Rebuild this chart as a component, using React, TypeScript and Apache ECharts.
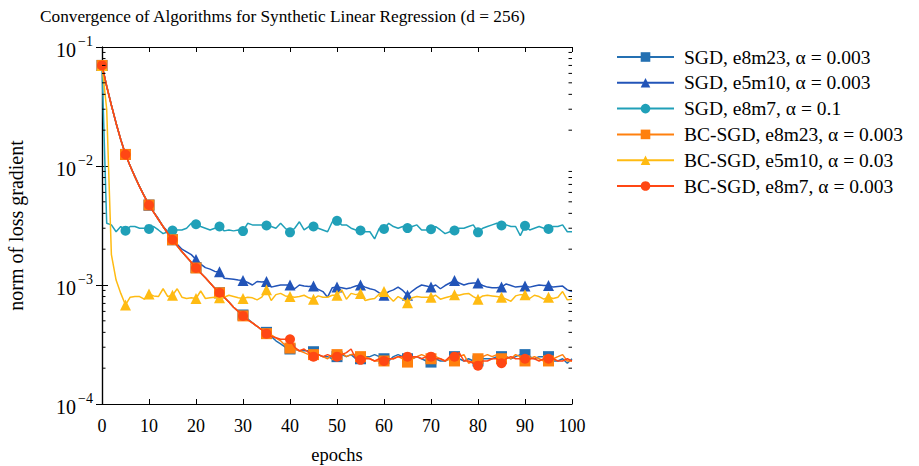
import React, { useEffect, useRef } from "react";
import * as echarts from "echarts";

const titleText = "Convergence of Algorithms for Synthetic Linear Regression (d = 256)";
const xTickValues = [0, 10, 20, 30, 40, 50, 60, 70, 80, 90, 100];
const yDecades = [1e-4, 1e-3, 1e-2, 1e-1];
const yMinorTicks = [
  2e-4, 3e-4, 4e-4, 5e-4, 6e-4, 7e-4, 8e-4, 9e-4,
  2e-3, 3e-3, 4e-3, 5e-3, 6e-3, 7e-3, 8e-3, 9e-3,
  2e-2, 3e-2, 4e-2, 5e-2, 6e-2, 7e-2, 8e-2, 9e-2,
];

const seriesNames = [
  "SGD, e8m23, α = 0.003",
  "SGD, e5m10, α = 0.003",
  "SGD, e8m7, α = 0.1",
  "BC-SGD, e8m23, α = 0.003",
  "BC-SGD, e5m10, α = 0.03",
  "BC-SGD, e8m7, α = 0.003",
];
const seriesColors = ["#2470b2", "#2254b8", "#20a0b8", "#ff800e", "#ffbb12", "#ff4714"];
const seriesSymbols = ["rect", "triangle", "circle", "rect", "triangle", "circle"];

// epoch-by-epoch values (epochs 0..100)
const sgdE8m23 = [
  0.07, 0.0468, 0.0324, 0.0229, 0.0166, 0.0125, 0.01, 0.0081, 0.0067, 0.0056,
  0.0047, 0.0041, 0.00355, 0.0031, 0.0027, 0.0024, 0.00214, 0.0019, 0.00172, 0.00155,
  0.0014, 0.00126, 0.00115, 0.00104, 0.00094, 0.00086, 0.00079, 0.00072, 0.00065, 0.0006,
  0.00056, 0.00052, 0.00048, 0.00045, 0.00042, 0.0004, 0.00037, 0.00034, 0.00032, 0.0003,
  0.00029, 0.00029, 0.00028, 0.00028, 0.00028, 0.000275, 0.00026, 0.00025, 0.00025, 0.00024,
  0.00025, 0.00026, 0.00025, 0.00026, 0.00024, 0.00024, 0.00025, 0.00025, 0.00026, 0.00025,
  0.00024, 0.00023, 0.00025, 0.00026, 0.00025, 0.00024, 0.00024, 0.00025, 0.00024, 0.00023,
  0.000225, 0.00024, 0.00023, 0.00023, 0.00024, 0.00025, 0.00024, 0.00023, 0.00024, 0.00023,
  0.00023, 0.00024, 0.00024, 0.00024, 0.00025, 0.00025, 0.00025, 0.00024, 0.00025, 0.00026,
  0.00026, 0.00025, 0.00024, 0.00025, 0.00025, 0.00025, 0.00023, 0.00023, 0.00024, 0.00022,
  0.00024,
];
const sgdE5m10 = [
  0.07, 0.0468, 0.0324, 0.0229, 0.0166, 0.0125, 0.01, 0.0082, 0.0067, 0.0056,
  0.0047, 0.0041, 0.0036, 0.0031, 0.0028, 0.0025, 0.0022, 0.002, 0.0019, 0.0018,
  0.00164, 0.0015, 0.0014, 0.00136, 0.0013, 0.00129, 0.00114, 0.00113, 0.00112, 0.0011,
  0.00109, 0.00105, 0.001, 0.00107, 0.00106, 0.00107, 0.00096, 0.00098, 0.001, 0.001,
  0.001, 0.00093, 0.001, 0.00098, 0.00097, 0.00098, 0.00092, 0.00088, 0.00079, 0.00095,
  0.00096, 0.00095, 0.00093, 0.00095, 0.00098, 0.001, 0.00096, 0.00093, 0.00091, 0.00086,
  0.00082, 0.00088, 0.00091, 0.00096, 0.0009, 0.00082, 0.00089, 0.00095, 0.001, 0.00098,
  0.00096, 0.001, 0.00093, 0.00099, 0.00104, 0.00109, 0.00104, 0.001, 0.00103, 0.00104,
  0.00104, 0.00099, 0.00096, 0.00095, 0.00095, 0.00096, 0.00102, 0.00099, 0.00096, 0.00097,
  0.00098, 0.00096, 0.00098, 0.001, 0.00099, 0.00099, 0.00096, 0.00097, 0.00098, 0.00091,
  0.00088,
];
const sgdE8m7 = [
  0.07, 0.0033, 0.0032, 0.0028, 0.0031, 0.00286, 0.0031, 0.0031, 0.003, 0.003,
  0.00296, 0.0031, 0.0029, 0.0027, 0.0028, 0.00287, 0.0029, 0.0029, 0.003, 0.0033,
  0.00324, 0.0031, 0.003, 0.0029, 0.003, 0.0031, 0.00285, 0.0029, 0.00285, 0.0029,
  0.00284, 0.0033, 0.0032, 0.0032, 0.0032, 0.00316, 0.0031, 0.003, 0.0033, 0.003,
  0.00277, 0.003, 0.0034, 0.0029, 0.0031, 0.0031, 0.003, 0.0029, 0.0028, 0.0034,
  0.00346, 0.0032, 0.0032, 0.003, 0.0029, 0.00287, 0.0028, 0.0028, 0.00244, 0.003,
  0.00296, 0.0033, 0.0031, 0.003, 0.0031, 0.00301, 0.0031, 0.0032, 0.0029, 0.0029,
  0.00294, 0.0031, 0.0029, 0.0027, 0.0028, 0.00287, 0.003, 0.003, 0.0031, 0.0032,
  0.00277, 0.003, 0.0031, 0.0032, 0.0033, 0.00316, 0.0032, 0.0031, 0.0031, 0.0026,
  0.00314, 0.0029, 0.003, 0.0031, 0.003, 0.00296, 0.0031, 0.0031, 0.0032, 0.0028,
  0.0028,
];
const bcE8m23 = [
  0.07, 0.0468, 0.0324, 0.0229, 0.0166, 0.0125, 0.01, 0.0081, 0.0067, 0.0056,
  0.0047, 0.0041, 0.00355, 0.0031, 0.0027, 0.0024, 0.00214, 0.0019, 0.00172, 0.00155,
  0.00139, 0.00126, 0.00115, 0.00104, 0.00094, 0.00086, 0.00079, 0.00072, 0.00065, 0.0006,
  0.00055, 0.00051, 0.00048, 0.00045, 0.00042, 0.00039, 0.00038, 0.00036, 0.00034, 0.00031,
  0.000295, 0.00029, 0.00028, 0.00027, 0.00026, 0.00026, 0.00026, 0.00025, 0.00024, 0.00026,
  0.00026, 0.00027, 0.00025, 0.00026, 0.00026, 0.00025, 0.00025, 0.00024, 0.00023, 0.00023,
  0.00023, 0.00024, 0.00024, 0.00025, 0.00024, 0.000225, 0.00024, 0.00025, 0.00026, 0.00025,
  0.00024, 0.00025, 0.00024, 0.00023, 0.00024, 0.00023, 0.00025, 0.00026, 0.00022, 0.00023,
  0.00024, 0.00025, 0.00026, 0.00025, 0.00026, 0.00024, 0.00025, 0.00024, 0.00026, 0.00025,
  0.00023, 0.00024, 0.00025, 0.00024, 0.00023, 0.00023, 0.00024, 0.00025, 0.00026, 0.00023,
  0.00023,
];
const bcE5m10 = [
  0.07, 0.03, 0.0018, 0.0011, 0.00085, 0.00068, 0.00079, 0.0008, 0.0008, 0.00076,
  0.00084, 0.00081, 0.0008, 0.00093, 0.0008, 0.00082, 0.00093, 0.00079, 0.00077, 0.00078,
  0.00077, 0.00089, 0.00077, 0.00078, 0.00079, 0.00078, 0.00079, 0.00082, 0.0008, 0.00078,
  0.00077, 0.00079, 0.00078, 0.00075, 0.00079, 0.00091, 0.00074, 0.00083, 0.00085, 0.00081,
  0.0008, 0.00079, 0.0008, 0.00082, 0.00078, 0.00076, 0.00081, 0.00079, 0.00079, 0.00082,
  0.00082, 0.00091, 0.00076, 0.00085, 0.00083, 0.00085, 0.00074, 0.00076, 0.00077, 0.00084,
  0.00088, 0.0008, 0.00073, 0.0008, 0.00076, 0.00071, 0.00078, 0.0008, 0.00079, 0.00079,
  0.00079, 0.00082, 0.00076, 0.00078, 0.0008, 0.00083, 0.00082, 0.00084, 0.00085, 0.0008,
  0.00076, 0.00081, 0.00082, 0.00081, 0.0008, 0.00079, 0.00076, 0.00073, 0.00081, 0.00083,
  0.00083, 0.00077, 0.00082, 0.0008, 0.00076, 0.00079, 0.00077, 0.00079, 0.00088, 0.00075,
  0.00076,
];
const bcE8m7 = [
  0.07, 0.0468, 0.0324, 0.0229, 0.0166, 0.0125, 0.01, 0.00813, 0.00668, 0.00556,
  0.0047, 0.00407, 0.00355, 0.00309, 0.00272, 0.0024, 0.00214, 0.00191, 0.00172, 0.00155,
  0.00139, 0.00126, 0.00115, 0.00104, 0.00094, 0.00086, 0.00079, 0.00072, 0.00065, 0.0006,
  0.00055, 0.00051, 0.00048, 0.00045, 0.00042, 0.00039, 0.00037, 0.00036, 0.00035, 0.00035,
  0.00035, 0.0003, 0.00028, 0.00029, 0.00027, 0.00025, 0.00026, 0.00025, 0.00026, 0.00025,
  0.00025, 0.00026, 0.00027, 0.00029, 0.00024, 0.000235, 0.00024, 0.00024, 0.00023, 0.00024,
  0.00023, 0.00024, 0.00024, 0.00025, 0.00025, 0.00025, 0.00025, 0.00025, 0.00024, 0.00025,
  0.00025, 0.00024, 0.00024, 0.00023, 0.00025, 0.00025, 0.00027, 0.00023, 0.00023, 0.00022,
  0.00021, 0.00023, 0.00023, 0.00024, 0.00024, 0.00022, 0.00024, 0.00025, 0.00024, 0.00024,
  0.00024, 0.00024, 0.00024, 0.00023, 0.00024, 0.00024, 0.00024, 0.00023, 0.00023, 0.00024,
  0.00023,
];
const seriesValues = [sgdE8m23, sgdE5m10, sgdE8m7, bcE8m23, bcE5m10, bcE8m7];
const markerEvery = 5;

const FONT = "'Liberation Serif', 'DejaVu Serif', serif";

export default function App() {
  const ref = useRef<HTMLDivElement>(null);
  useEffect(() => {
    if (!ref.current) return;
    const chart = echarts.init(ref.current, null, { renderer: "svg" });
    const markerSize = (sym: string) => (sym === "rect" ? 11 : sym === "triangle" ? 11 : 10);
    const lineSeries = seriesNames.map((name, k) => ({
      name,
      type: "line",
      xAxisIndex: 0,
      yAxisIndex: 0,
      data: seriesValues[k].map((v, i) => [i, v]),
      symbol: seriesSymbols[k],
      showSymbol: true,
      showAllSymbol: true,
      symbolSize: (_v: any, p: any) =>
        p.dataIndex % markerEvery === 0 && p.dataIndex < 100 ? markerSize(seriesSymbols[k]) : 0,
      lineStyle: { color: seriesColors[k], width: 1.5 },
      itemStyle: { color: seriesColors[k] },
      color: seriesColors[k],
      z: 2 + k,
    }));
    const minorSeries = {
      type: "custom",
      name: "minor",
      silent: true,
      xAxisIndex: 0,
      yAxisIndex: 0,
      data: yMinorTicks.map((v) => [0, v]),
      encode: { x: 0, y: 1 },
      clip: false,
      z: 10,
      renderItem: (_params: any, api: any) => {
        const v = api.value(1);
        const pl = api.coord([0, v]);
        const pr = api.coord([100, v]);
        return {
          type: "group",
          children: [
            { type: "line", shape: { x1: pl[0], y1: pl[1], x2: pl[0] + 3.5, y2: pl[1] }, style: { stroke: "#000", lineWidth: 1 } },
            { type: "line", shape: { x1: pr[0], y1: pr[1], x2: pr[0] - 3.5, y2: pr[1] }, style: { stroke: "#000", lineWidth: 1 } },
          ],
        };
      },
    };
    const expOf = (v: number) => Math.round(Math.log10(v));
    const axisLine = { show: true, lineStyle: { color: "#000", width: 1.2 } };
    chart.setOption({
      animation: false,
      backgroundColor: "#fff",
      title: {
        text: titleText,
        left: 35,
        top: 3,
        textStyle: { fontFamily: FONT, fontSize: 17.3, fontWeight: "normal", color: "#000" },
      },
      grid: { left: 102, right: 347, top: 47, bottom: 62, containLabel: false, outerBoundsMode: "none" },
      legend: {
        orient: "vertical",
        left: 611,
        top: 42,
        itemWidth: 57,
        itemHeight: 12,
        itemGap: 5.8,
        data: seriesNames,
        textStyle: { fontFamily: FONT, fontSize: 19.5, color: "#000", lineHeight: 16, padding: [0, 0, 0, 5] },
      },
      xAxis: [
        {
          type: "value",
          min: 0,
          max: 100,
          interval: 10,
          position: "bottom",
          name: "epochs",
          nameLocation: "middle",
          nameGap: 42,
          nameTextStyle: { fontFamily: FONT, fontSize: 18.5, color: "#000", lineHeight: 18 },
          axisLine,
          axisTick: { show: true, inside: true, length: 5, lineStyle: { color: "#000" } },
          axisLabel: {
            fontFamily: FONT,
            fontSize: 18,
            color: "#000",
            margin: 13,
            formatter: (v: number) => (xTickValues.includes(v) ? String(v) : ""),
          },
          splitLine: { show: false },
        },
        {
          type: "value",
          min: 0,
          max: 100,
          interval: 10,
          position: "top",
          axisLine,
          axisTick: { show: true, inside: true, length: 5, lineStyle: { color: "#000" } },
          axisLabel: { show: false },
          splitLine: { show: false },
        },
      ],
      yAxis: [
        {
          type: "log",
          logBase: 10,
          min: yDecades[0],
          max: yDecades[yDecades.length - 1],
          position: "left",
          name: "norm of loss gradient",
          nameLocation: "middle",
          nameGap: 76,
          nameRotate: 90,
          nameTextStyle: { fontFamily: FONT, fontSize: 20, color: "#000" },
          axisLine,
          axisTick: { show: true, inside: true, length: 6, lineStyle: { color: "#000" } },
          axisLabel: {
            fontFamily: FONT,
            color: "#000",
            margin: 9,
            formatter: (v: number) => `{b|10}{e|${expOf(v) < 0 ? "−" : ""}${Math.abs(expOf(v))}}`,
            rich: {
              b: { fontFamily: FONT, fontSize: 20, color: "#000", lineHeight: 26, verticalAlign: "bottom" },
              e: { fontFamily: FONT, fontSize: 14, color: "#000", lineHeight: 26, verticalAlign: "top", padding: [0, 0, 12, 2] },
            },
          },
          splitLine: { show: false },
        },
        {
          type: "log",
          logBase: 10,
          min: yDecades[0],
          max: yDecades[yDecades.length - 1],
          position: "right",
          axisLine,
          axisTick: { show: true, inside: true, length: 6, lineStyle: { color: "#000" } },
          axisLabel: { show: false },
          splitLine: { show: false },
        },
      ],
      series: [...lineSeries, minorSeries],
    });
    return () => chart.dispose();
  }, []);
  return (
    <div
      ref={ref}
      style={{ position: "fixed", left: 0, top: 0, width: 919, height: 466, background: "#fff" }}
    />
  );
}
